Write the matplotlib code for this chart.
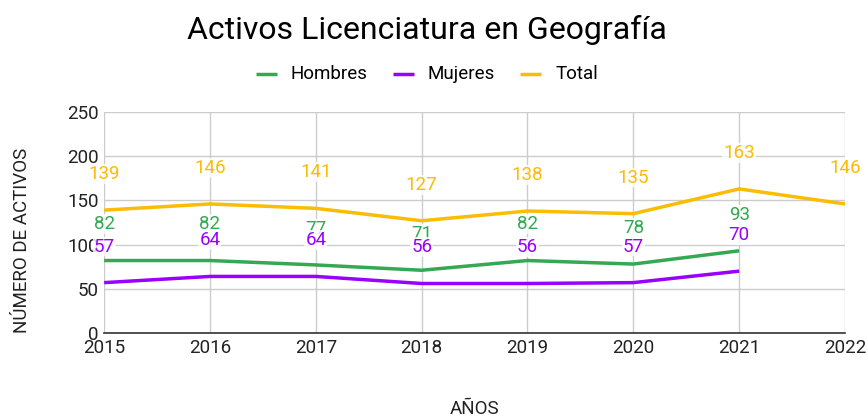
import matplotlib.pyplot as plt

plt.rcParams['font.family'] = ['Roboto', 'DejaVu Sans']

years = [2015, 2016, 2017, 2018, 2019, 2020, 2021, 2022]
hombres = [82, 82, 77, 71, 82, 78, 93]
mujeres = [57, 64, 64, 56, 56, 57, 70]
total = [139, 146, 141, 127, 138, 135, 163, 146]

series = [
    ('Hombres', hombres, '#34a853'),
    ('Mujeres', mujeres, '#9900ff'),
    ('Total', total, '#fbbc04'),
]

fig = plt.figure(figsize=(8.68, 4.17), dpi=100)
ax = fig.add_axes([0.12, 0.2014, 0.8535, 0.53])

for name, vals, col in series:
    xs = years[:len(vals)]
    ax.plot(xs, vals, color=col, lw=2.5, label=name, solid_capstyle='butt')
    for x, v in zip(xs, vals):
        ax.annotate(str(v), (x, v), xytext=(0, 26), textcoords='offset points',
                    ha='center', va='center', color=col, fontsize=13.5,
                    bbox=dict(boxstyle='square,pad=0.05', fc='white', ec='none', alpha=0.8))

ax.set_xlim(2015, 2022)
ax.set_ylim(0, 250)
ax.set_xticks(years)
ax.set_yticks([0, 50, 100, 150, 200, 250])
ax.tick_params(length=0, labelsize=13.5, colors='#222222', pad=4)
ax.grid(True, color='#cccccc', lw=1)
for s in ['top', 'right', 'left']:
    ax.spines[s].set_visible(False)
ax.spines['bottom'].set_color('#333333')
ax.spines['bottom'].set_linewidth(1.2)
ax.set_axisbelow(True)

ax.set_xlabel('AÑOS', fontsize=13.5, color='#222222', labelpad=31)
ax.set_ylabel('NÚMERO DE ACTIVOS', fontsize=13.5, color='#222222')
ax.yaxis.set_label_coords(-0.099, 0.42)

fig.text(0.492, 0.928, 'Activos Licenciatura en Geografía', ha='center', va='center', fontsize=23)
fig.legend(loc='center', bbox_to_anchor=(0.492, 0.822), ncol=3, frameon=False,
           fontsize=13.5, handlelength=1.1, handleheight=0.4, columnspacing=1.35, handletextpad=0.75)

fig.savefig('out.png', dpi=100)
